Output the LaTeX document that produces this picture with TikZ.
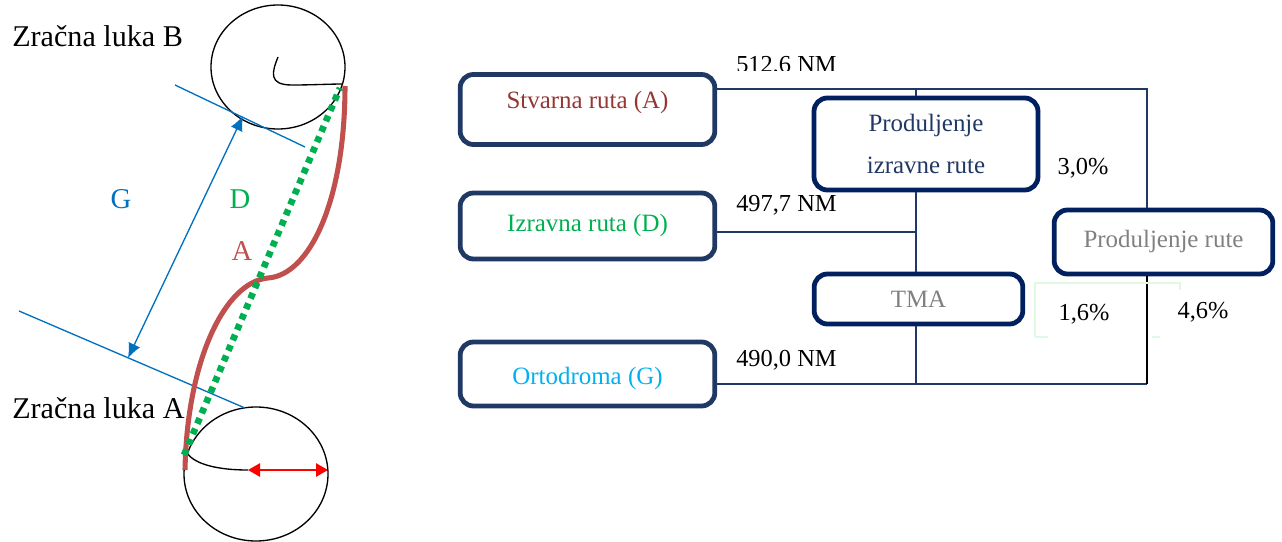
\documentclass[tikz,border=0pt]{standalone}
\usepackage{fontspec}
\setmainfont{Liberation Serif}
\usepackage{tikz}
\usetikzlibrary{arrows.meta,positioning,calc}
\definecolor{routered}{RGB}{192,80,77}
\definecolor{routegreen}{RGB}{0,176,80}
\definecolor{geoblue}{RGB}{0,112,192}
\definecolor{boxnavy}{RGB}{31,56,100}
\definecolor{darknavy}{RGB}{0,32,96}
\definecolor{actualtxt}{RGB}{148,54,52}
\definecolor{orthotxt}{RGB}{0,176,240}
\definecolor{fadegreen}{RGB}{225,248,228}
\tikzset{
  routebox/.style={rectangle, rounded corners=10pt, draw=boxnavy, line width=3.6pt, align=center, inner sep=0pt, font=\fontsize{18.7}{22}\selectfont},
  extbox/.style={routebox, draw=darknavy},
  link/.style={draw=boxnavy, line width=1pt},
  dist/.style={font=\fontsize{18.3}{22}\selectfont, anchor=west, inner sep=0pt},
  share/.style={font=\fontsize{18.3}{22}\selectfont, inner sep=0pt},
  airport/.style={font=\fontsize{22.6}{26}\selectfont, anchor=west, inner sep=0pt},
  maplabel/.style={font=\fontsize{21.5}{25}\selectfont, inner sep=0pt},
  bound/.style={draw=geoblue, line width=1pt},
  gap/.style={{Latex[length=11pt,width=9.5pt]}-{Latex[length=11pt,width=9.5pt]}, draw=geoblue, line width=1pt}
}
\begin{document}
\begin{tikzpicture}[x=0.75pt, y=-0.75pt]
\useasboundingbox (0,0) rectangle (1282,542);
% airports and routes
\draw[line width=1pt] (278,67) ellipse [x radius=67, y radius=62];
\draw[line width=1pt] (256,474) ellipse [x radius=72, y radius=67];
\draw[line width=1pt] (278,57) .. controls (272,72) and (268,85) .. (292,85) .. controls (312,85) and (330,84) .. (343,84);
\draw[line width=1pt] (185,448) .. controls (188,462) and (212,470) .. (248,470);
\draw[bound] (175,85) -- (305,147);
\draw[bound] (19,311) -- (245,408);
\coordinate (gS) at (128,358);
\coordinate (gN) at (243,116);
\draw[gap] (gS) -- (gN);
\draw[routered, line width=3.8pt] (185,470) .. controls (187,360) and (225,282) .. (268,278) .. controls (310,275) and (345,200) .. (345,86);
\draw[routegreen, line width=5pt, dash pattern=on 4.5pt off 4pt] (184,455) -- (340,88);
\draw[red, line width=1.3pt, {Triangle[length=9pt,width=10pt]}-{Triangle[length=9pt,width=10pt]}] (248,470) -- (328,470);
\node[airport] (lukaB) at (12,36) {Zračna luka B};
\node[airport] (lukaA) at (12,408) {Zračna luka A};
\node[maplabel, text=geoblue] (lblG) at (121,199) {G};
\node[maplabel, text=routegreen] (lblD) at (240,199) {D};
\node[maplabel, text=routered] (lblA) at (242,251) {A};
% route boxes
\node[routebox, minimum width=191pt, minimum height=52.5pt, text depth=14pt, text=actualtxt] (stvarna) at (587.5,109.5) {Stvarna ruta (A)};
\node[routebox, minimum width=191pt, minimum height=49.5pt, text=routegreen] (izravna) at (587.5,226) {Izravna ruta (D)};
\node[routebox, minimum width=191pt, minimum height=48pt, text height=20pt, text=orthotxt] (orto) at (587.5,374) {Ortodroma (G)};
\node[extbox, minimum width=168pt, minimum height=69pt, text=boxnavy, font=\fontsize{18.7}{32}\selectfont] (prodIzr) at (926,144) {Produljenje\\izravne rute};
\node[extbox, minimum width=156.5pt, minimum height=37.5pt, text=black!50] (tma) at (918.5,299) {TMA};
\node[extbox, minimum width=164pt, minimum height=48pt, text=black!50] (prodRute) at (1163.5,242) {Produljenje rute};
% connectors
\coordinate (jA) at (916,89);
\coordinate (jD) at (916,232);
\coordinate (jG) at (916,384);
\coordinate (cA) at (1147,89);
\coordinate (cG) at (1147,384);
\draw[link] (stvarna.east |- jA) -- (cA) -- (cA |- prodRute.north);
\draw[link] (jA) -- (jA |- prodIzr.north);
\draw[link] (jA |- prodIzr.south) -- (jA |- tma.north);
\draw[link] (izravna.east |- jD) -- (jD);
\draw[link] (jA |- tma.south) -- (jG);
\draw[link] (orto.east |- jG) -- (cG);
\draw[line width=1pt] (cG |- prodRute.south) -- (cG);
\draw[fadegreen, line width=0.8pt] (1035,337) -- (1035,283) -- (1180,283) -- (1180,290);
\draw[fadegreen, line width=0.8pt] (1035,337) -- (1048,337) (1152,337) -- (1160,337);
% distances and shares
\begin{scope}
\clip (700,40) rectangle (900,70.5);
\node[dist] (dA) at (736,66) {512,6 NM};
\end{scope}
\node[dist] (dD) at (736,205) {497,7 NM};
\node[dist] (dG) at (736,360) {490,0 NM};
\node[share] (pD) at (1083,168) {3,0\%};
\node[share] (pT) at (1084,314) {1,6\%};
\node[share] (pR) at (1203,312) {4,6\%};
\end{tikzpicture}
\end{document}
